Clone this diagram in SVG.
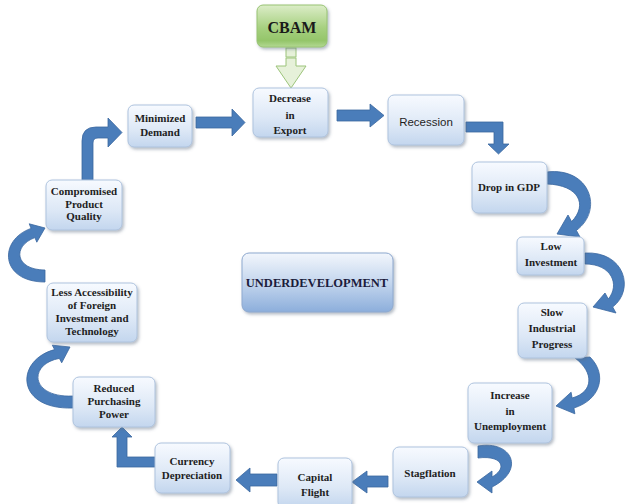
<svg xmlns="http://www.w3.org/2000/svg" width="626" height="504" viewBox="0 0 626 504">
<defs>
<linearGradient id="gBox" x1="0" y1="0" x2="0" y2="1">
<stop offset="0" stop-color="#f7faff"/>
<stop offset="0.6" stop-color="#dde8f6"/>
<stop offset="1" stop-color="#c3d6ee"/>
</linearGradient>
<linearGradient id="gCore" x1="0" y1="0" x2="0" y2="1">
<stop offset="0" stop-color="#f2f6fc"/>
<stop offset="0.5" stop-color="#c4d6ee"/>
<stop offset="1" stop-color="#8caedb"/>
</linearGradient>
<linearGradient id="gGreen" x1="0" y1="0" x2="0" y2="1">
<stop offset="0" stop-color="#dcedc8"/>
<stop offset="0.55" stop-color="#a6d07f"/>
<stop offset="0.85" stop-color="#94c56a"/>
<stop offset="1" stop-color="#b3d993"/>
</linearGradient>
<filter id="sh" x="-10%" y="-10%" width="130%" height="140%">
<feDropShadow dx="1.5" dy="2" stdDeviation="1.5" flood-color="#5a6b80" flood-opacity="0.45"/>
</filter>
</defs>
<style>
.box{fill:url(#gBox);stroke:#aec3de;stroke-width:1;filter:url(#sh)}
.t{font-family:"Liberation Serif","Times New Roman",serif;font-weight:bold;font-size:11px;fill:#1e1e1e;text-anchor:middle}
.s{font-family:"Liberation Sans",Arial,sans-serif;font-size:11.5px;fill:#1e1e1e;text-anchor:middle}
.arr{fill:#4a7dba;stroke:#3a679f;stroke-width:0.8}
</style>
<rect width="626" height="504" fill="#ffffff"/>

<g id="connectors">
<!-- CBAM hollow arrow -->
<g fill="#e6f1d9" stroke="#9cc47a" stroke-width="1">
<rect x="286" y="48" width="10" height="9"/>
<polygon points="286,58 296,58 296,66 306,66 291,88 276,66 286,66"/>
</g>
<!-- Minimized -> Decrease -->
<polygon class="arr" points="196,117 232,117 232,109 245,122.5 232,136 232,128 196,128"/>
<!-- Decrease -> Recession -->
<polygon class="arr" points="337,110 370,110 370,104 384,115.5 370,127 370,121 337,121"/>
<!-- Recession -> Drop in GDP -->
<polygon class="arr" points="466,122 503,122 503,144 509,144 498.5,154 488,144 494,144 494,132 466,132"/>
<!-- Drop -> Low -->
<path class="arr" d="M547,172 C590,167 604,210 576.4,230.4 L580,237 L557,234 L568,215 L571.6,221.6 C588,205 579,185 547,184 Z"/>
<!-- Low -> Slow -->
<path class="arr" d="M585,253 C625,251 635,290 612.7,307 L616,313 L593,307 L605,293 L608.3,299 C620,285 612,264 585,264 Z"/>
<!-- Slow -> Increase -->
<path class="arr" d="M575,358 L590,357 C608,375 600,400 573.9,408 L574.9,413.8 L556,406 L571.1,392.2 L572.1,398 C594,392 594,372 575,358 Z"/>
<!-- Increase -> Stagflation -->
<path class="arr" d="M478,446 C512,440 526,470 492,487 L492,493 L477,482 L492,471 L492,477 C508,468 502,455 478,458 Z"/>
<!-- Stagflation -> Capital Flight -->
<polygon class="arr" points="388,476 367,476 367,471 352,482 367,493 367,487 388,487"/>
<!-- Capital Flight -> Currency -->
<polygon class="arr" points="277,474 250,474 250,468 236,480 250,492 250,486 277,486"/>
<!-- Currency -> Reduced -->
<polygon class="arr" points="155,457 127,457 127,437 132,437 122,427 112,437 117,437 117,467 155,467"/>
<!-- Reduced -> Less Accessibility -->
<path class="arr" d="M73,408 C15,410 15,360 54.6,349.6 L52.3,345.2 L70,347 L61.7,362.8 L59.4,358.4 C28,364 30,398 73,396 Z"/>
<!-- Less Accessibility -> Compromised -->
<path class="arr" d="M45,282 C0,282 -2,240 31.1,228.4 L29.2,223.8 L45,228 L36.8,242.2 L34.9,237.6 C12,246 15,270 45,270 Z"/>
<!-- Compromised -> Minimized -->
<path class="arr" d="M82,180 L82,141 Q82,127 96,127 L108,127 L108,118 L122,132.5 L108,147 L108,138 L98,138 Q93,138 93,143 L93,180 Z"/>
</g>

<g id="cbam">
<rect x="257" y="5" width="70" height="42" rx="6" fill="url(#gGreen)" stroke="#98c373" filter="url(#sh)"/>
<text x="292" y="33" font-family="Liberation Serif,'Times New Roman',serif" font-weight="bold" font-size="16" fill="#1a1a1a" text-anchor="middle">CBAM</text>
</g>

<g id="decrease">
<rect class="box" x="253" y="88" width="75" height="49" rx="6"/>
<text class="t" x="290" y="102">Decrease</text>
<text class="t" x="290" y="119">in</text>
<text class="t" x="290" y="134">Export</text>
</g>

<g id="recession">
<rect class="box" x="388" y="95" width="76" height="50" rx="6"/>
<text class="s" x="426" y="126">Recession</text>
</g>

<g id="drop">
<rect class="box" x="472" y="162" width="75" height="51" rx="6"/>
<text class="t" x="509" y="191">Drop in GDP</text>
</g>

<g id="low">
<rect class="box" x="517" y="237" width="67" height="38" rx="5"/>
<text class="t" x="551" y="250">Low</text>
<text class="t" x="551" y="266">Investment</text>
</g>

<g id="slow">
<rect class="box" x="518" y="303" width="69" height="55" rx="6"/>
<text class="t" x="552" y="316">Slow</text>
<text class="t" x="552" y="332">Industrial</text>
<text class="t" x="552" y="348">Progress</text>
</g>

<g id="increase">
<rect class="box" x="468" y="383" width="84" height="60" rx="6"/>
<text class="t" x="510" y="399">Increase</text>
<text class="t" x="510" y="415">in</text>
<text class="t" x="510" y="430">Unemployment</text>
</g>

<g id="stagflation">
<rect class="box" x="393" y="447" width="75" height="50" rx="6"/>
<text class="t" x="430" y="477">Stagflation</text>
</g>

<g id="capital">
<rect class="box" x="278" y="458" width="74" height="50" rx="6"/>
<text class="t" x="315" y="481">Capital</text>
<text class="t" x="315" y="496">Flight</text>
</g>

<g id="currency">
<rect class="box" x="155" y="443" width="75" height="50" rx="6"/>
<text class="t" x="192" y="465">Currency</text>
<text class="t" x="192" y="479">Depreciation</text>
</g>

<g id="reduced">
<rect class="box" x="73" y="377" width="82" height="50" rx="6"/>
<text class="t" x="114" y="392">Reduced</text>
<text class="t" x="114" y="405">Purchasing</text>
<text class="t" x="114" y="418">Power</text>
</g>

<g id="less">
<rect class="box" x="47" y="283" width="90" height="59" rx="6"/>
<text class="t" x="92" y="296">Less Accessibility</text>
<text class="t" x="92" y="309">of Foreign</text>
<text class="t" x="92" y="322">Investment and</text>
<text class="t" x="92" y="335">Technology</text>
</g>

<g id="compromised">
<rect class="box" x="46" y="180" width="76" height="50" rx="6"/>
<text class="t" x="84" y="195">Compromised</text>
<text class="t" x="84" y="208">Product</text>
<text class="t" x="84" y="220">Quality</text>
</g>

<g id="minimized">
<rect class="box" x="128" y="105" width="64" height="42" rx="6"/>
<text class="t" x="160" y="122">Minimized</text>
<text class="t" x="160" y="136">Demand</text>
</g>

<g id="underdevelopment">
<rect x="242" y="253" width="151" height="59" rx="7" fill="url(#gCore)" stroke="#8ea9cf" filter="url(#sh)"/>
<text x="317" y="287" font-family="Liberation Serif,'Times New Roman',serif" font-weight="bold" font-size="12.5" fill="#1c1c3c" text-anchor="middle">UNDERDEVELOPMENT</text>
</g>
</svg>
